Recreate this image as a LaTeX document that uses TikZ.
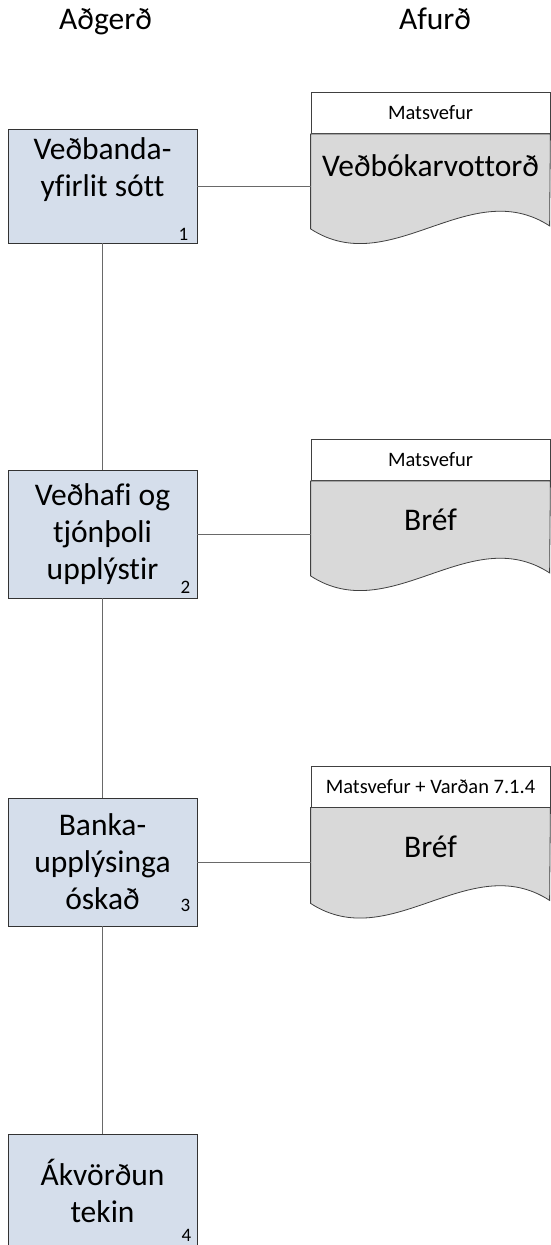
\documentclass[tikz,border=0pt]{standalone}
\usepackage{fontspec}
\setmainfont{Carlito}[Ligatures=NoCommon]
\definecolor{stepblue}{RGB}{213,222,235}
\definecolor{docgray}{RGB}{217,217,217}
\definecolor{linegray}{RGB}{105,105,105}

\begin{document}
\begin{tikzpicture}[x=1pt,y=-1pt,line width=0.8pt,
                    big/.style={font=\fontsize{31.5}{37}\selectfont},
                    main node/.style={rectangle,draw=black!80,fill=stepblue,big,align=center,minimum width=189pt,inner sep=0pt},
                    nr/.style={anchor=base east,font=\fontsize{19}{22}\selectfont},
                    head node/.style={rectangle,draw=black!75,fill=white,minimum width=239pt,minimum height=41pt,inner sep=0pt,font=\fontsize{20.5}{24}\selectfont},
                    doc body/.style={draw=black!75,fill=docgray},
                    link/.style={draw=linegray}]
\useasboundingbox (0,0) rectangle (551,1245);
\node[big,anchor=base] (act) at (105.5,29) {Aðgerð};
\node[big,anchor=base] (out) at (435,29) {Afurð};

\node[main node,minimum height=114pt] (1) at (102.5,186) {Veðbanda-\\yfirlit sótt\\~};
\node[main node,minimum height=128pt] (2) at (102.5,534) {Veðhafi og\\tjónþoli\\upplýstir};
\node[main node,minimum height=128pt] (3) at (102.5,862) {Banka-\\upplýsinga\\óskað};
\node[main node,minimum height=114pt] (4) at (102.5,1191) {Ákvörðun\\tekin};
\node[nr] (n1) at (192,240) {1};
\node[nr] (n2) at (194,593) {2};
\node[nr] (n3) at (194,911) {3};
\node[nr] (n4) at (195,1241) {4};

\node[head node] (h1) at (430.5,113) {Matsvefur};
\node[head node] (h2) at (430.5,460) {Matsvefur};
\node[head node] (h3) at (430.5,786.5) {Matsvefur + Varðan 7.1.4};
\draw[doc body] (h1.south west) -- ++(0,95) .. controls +(80,52) and +(-80,-52) .. ++(239,-3) -- (h1.south east) -- cycle;
\draw[doc body] (h2.south west) -- ++(0,95) .. controls +(80,52) and +(-80,-52) .. ++(239,-3) -- (h2.south east) -- cycle;
\draw[doc body] (h3.south west) -- ++(0,96) .. controls +(80,52) and +(-80,-52) .. ++(239,-3) -- (h3.south east) -- cycle;
\node[big,anchor=base] (p1) at (430.5,176) {Veðbókarvottorð};
\node[big,anchor=base] (p2) at (430.5,530) {Bréf};
\node[big,anchor=base] (p3) at (430.5,857) {Bréf};

\path[link]
(1) edge (2)
    edge (1 -| h1.west)
(2) edge (3)
    edge (2 -| h2.west)
(3) edge (4)
    edge (3 -| h3.west)
;

\end{tikzpicture}
\end{document}
